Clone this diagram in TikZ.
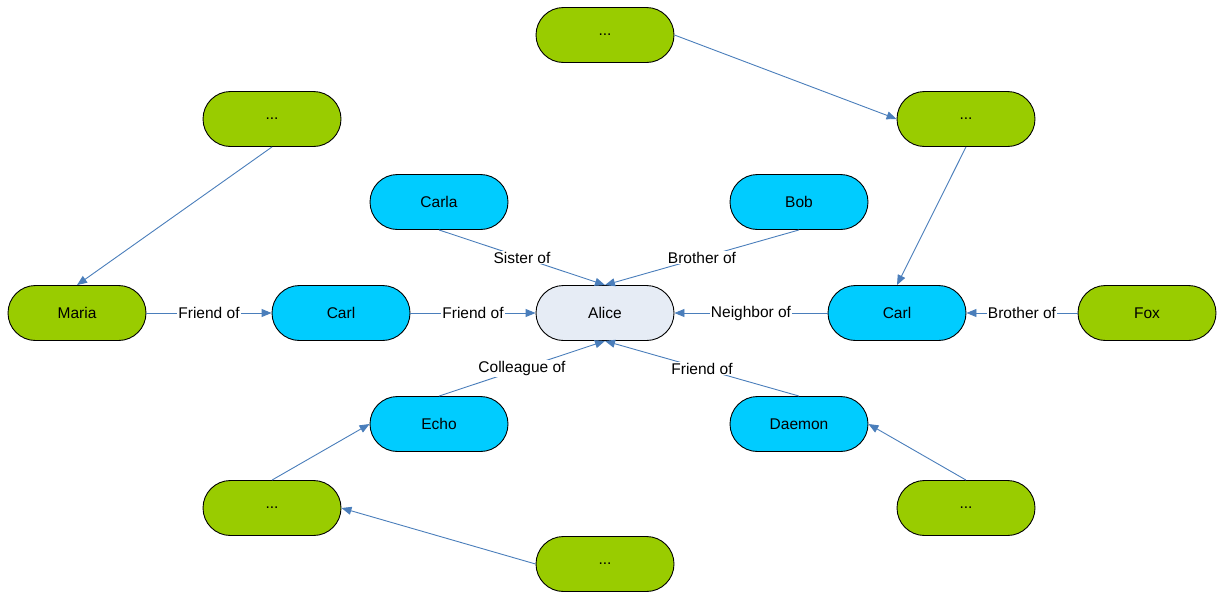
\documentclass[tikz,border=0pt]{standalone}
\usepackage{fontspec}
\setmainfont{Liberation Sans}
\usetikzlibrary{arrows.meta}
\definecolor{leafgreen}{HTML}{99CC00}
\definecolor{skycyan}{HTML}{00CCFF}
\definecolor{paleblue}{HTML}{E6ECF5}
\definecolor{linkblue}{HTML}{4A7EBB}
\tikzset{
  pill/.style={draw=black, line width=0.9pt, rounded corners=27.5pt,
    minimum width=138pt, minimum height=55pt, inner sep=0pt,
    font=\fontsize{15.5}{18}\selectfont},
  outer/.style={pill, fill=leafgreen},
  inner/.style={pill, fill=skycyan},
  hub/.style={pill, fill=paleblue},
  link/.style={draw=linkblue, line width=0.9pt,
    -{Triangle[length=10pt,width=8pt]}},
  rel/.style={fill=white, inner sep=1pt, font=\fontsize{15.5}{18}\selectfont}
}
\begin{document}
\begin{tikzpicture}[x=1pt, y=-1pt]
\useasboundingbox (0,0) rectangle (1217,592);

% central person
\node[hub] (alice) at (605,313) {Alice};

% direct relations
\node[inner] (carlL) at (341,313) {Carl};
\node[inner] (carlR) at (897,313) {Carl};
\node[inner] (carla) at (439,202) {Carla};
\node[inner] (bob)   at (799,202) {Bob};
\node[inner] (echo)  at (439,424) {Echo};
\node[inner] (daemon) at (799,424) {Daemon};

% second-level relations
\node[outer] (maria) at (77,313) {Maria};
\node[outer] (fox)   at (1147,313) {Fox};
\node[outer] (top)   at (605,35) {...};
\node[outer] (ur)    at (966,119) {...};
\node[outer] (ul)    at (272,119) {...};
\node[outer] (ll)    at (272,508) {...};
\node[outer] (bot)   at (605,564) {...};
\node[outer] (lr)    at (966,508) {...};

% links into Alice
\draw[link] (carlL.east) -- node[rel] {Friend of} (alice.west);
\draw[link] (carlR.west) -- node[rel] {Neighbor of} (alice.east);
\draw[link] (carla.south) -- node[rel] {Sister of} (alice.north);
\draw[link] (bob.south) -- node[rel] {Brother of} (alice.north);
\draw[link] (echo.north) -- node[rel] {Colleague of} (alice.south);
\draw[link] (daemon.north) -- node[rel] {Friend of} (alice.south);

% outer links
\draw[link] (maria.east) -- node[rel] {Friend of} (carlL.west);
\draw[link] (fox.west) -- node[rel] {Brother of} (carlR.east);
\draw[link] (top.east) -- (ur.west);
\draw[link] (ur.south) -- (carlR.north);
\draw[link] (ul.south) -- (maria.north);
\draw[link] (ll.north) -- (echo.west);
\draw[link] (bot.west) -- (ll.east);
\draw[link] (lr.north) -- (daemon.east);
\end{tikzpicture}
\end{document}
